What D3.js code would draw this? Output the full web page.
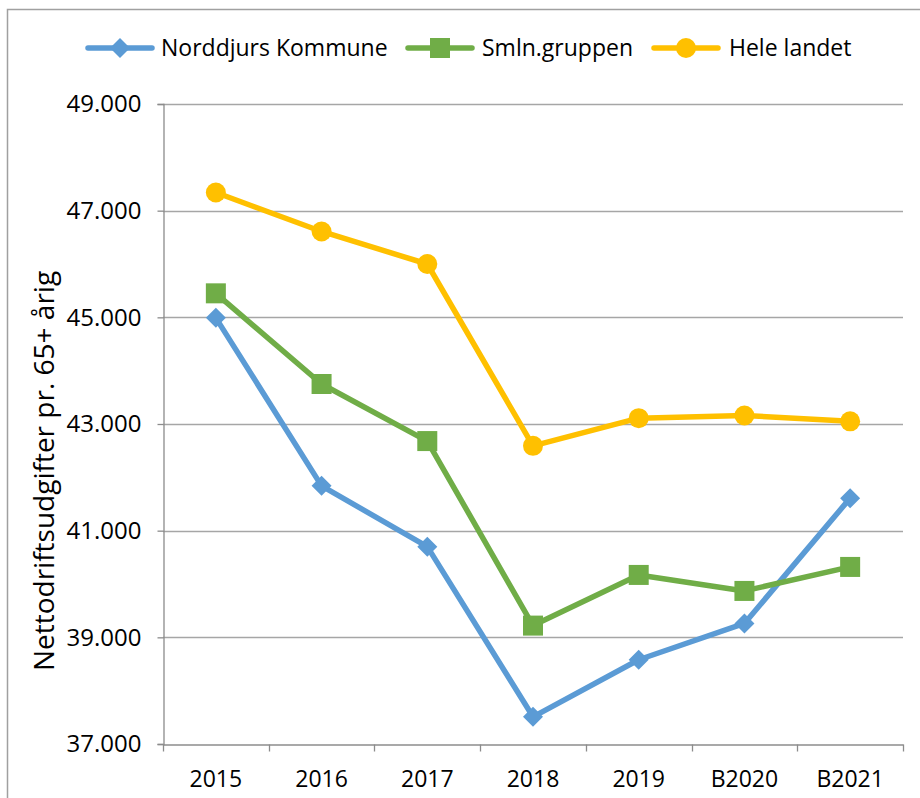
<!DOCTYPE html>
<html>
<head>
<meta charset="utf-8">
<script src="https://cdn.jsdelivr.net/npm/d3@7"></script>
<style>
  body { margin: 0; background: #fff; }
  text { font-family: "Open Sans", sans-serif; fill: #000; }
</style>
</head>
<body>
<div id="chart"></div>
<script>
// data
const years = ["2015", "2016", "2017", "2018", "2019", "B2020", "B2021"];
const norddjurs = [44990, 41840, 40700, 37510, 38580, 39260, 41610];
const smln = [45450, 43750, 42680, 39220, 40170, 39870, 40320];
const heleLandet = [47340, 46610, 46000, 42590, 43110, 43160, 43050];
const yTicks = [37000, 39000, 41000, 43000, 45000, 47000, 49000];

const seriesNames = ["Norddjurs Kommune", "Smln.gruppen", "Hele landet"];
const colors = ["#5B9BD5", "#70AD47", "#FFC000"];
const shapes = ["diamond", "square", "circle"];

const W = 920, H = 798;
const margin = { left: 163, right: 17, top: 104, bottom: 54 };

const svg = d3.select("#chart").append("svg")
    .attr("width", W).attr("height", H);

// chart area border
svg.append("rect")
    .attr("x", 7.5).attr("y", 9.5)
    .attr("width", W + 20).attr("height", H + 20)
    .attr("fill", "none").attr("stroke", "#a0a0a0").attr("stroke-width", 1.5);

const x = d3.scaleBand().domain(years).range([margin.left, W - margin.right]);
const y = d3.scaleLinear().domain([37000, 49000]).range([H - margin.bottom, margin.top]);

const fmt = v => d3.format(",.3f")(v / 1000).replace(/,/g, "");

// gridlines
svg.append("g").selectAll("line")
    .data(yTicks.slice(1))
    .join("line")
    .attr("x1", margin.left).attr("x2", W - margin.right)
    .attr("y1", d => Math.round(y(d)) + 0.5).attr("y2", d => Math.round(y(d)) + 0.5)
    .attr("stroke", "#a6a6a6").attr("stroke-width", 1.3);

// y axis
const yAxis = svg.append("g")
    .attr("transform", `translate(${margin.left + 0.5},0)`)
    .call(d3.axisLeft(y).tickValues(yTicks).tickSize(6).tickPadding(16)
        .tickFormat(fmt));
yAxis.select(".domain").attr("stroke", "#8c8c8c").attr("stroke-width", 1.3);
yAxis.selectAll(".tick line").attr("stroke", "#8c8c8c").attr("stroke-width", 1.3);
yAxis.selectAll("text").style("font-size", "24px").style("font-family", "'Open Sans', sans-serif");

// x axis
const xAxis = svg.append("g")
    .attr("transform", `translate(0,${Math.round(y(37000)) + 0.5})`)
    .call(d3.axisBottom(x).tickSize(0).tickPadding(26));
xAxis.select(".domain").attr("stroke", "#8c8c8c").attr("stroke-width", 1.3);
xAxis.selectAll("text").style("font-size", "23px").style("font-family", "'Open Sans', sans-serif");
// category boundary ticks
xAxis.append("g").selectAll("line")
    .data(years.map(d => x(d)).concat([x.range()[1]]))
    .join("line")
    .attr("x1", d => Math.round(d) + 0.5).attr("x2", d => Math.round(d) + 0.5)
    .attr("y1", 0).attr("y2", 7)
    .attr("stroke", "#8c8c8c").attr("stroke-width", 1.3);

// y axis title
svg.append("text")
    .attr("transform", "translate(54,471) rotate(-90)")
    .attr("text-anchor", "middle")
    .style("font-size", "28px")
    .text("Nettodriftsudgifter pr. 65+ årig");

const allSeries = [norddjurs, smln, heleLandet];
const cx = d => x(d) + x.bandwidth() / 2;

const line = d3.line()
    .x((d, i) => cx(years[i]))
    .y(d => y(d));

function drawMarker(g, shape, color, px, py) {
    if (shape === "diamond") {
        g.append("path")
            .attr("d", `M${px},${py - 10}L${px + 10},${py}L${px},${py + 10}L${px - 10},${py}Z`)
            .attr("fill", color);
    } else if (shape === "square") {
        g.append("rect")
            .attr("x", px - 10).attr("y", py - 10)
            .attr("width", 20).attr("height", 20)
            .attr("fill", color);
    } else {
        g.append("circle")
            .attr("cx", px).attr("cy", py).attr("r", 10)
            .attr("fill", color);
    }
}

allSeries.forEach((vals, si) => {
    const g = svg.append("g");
    g.append("path")
        .datum(vals)
        .attr("d", line)
        .attr("fill", "none")
        .attr("stroke", colors[si])
        .attr("stroke-width", 5.5)
        .attr("stroke-linejoin", "round")
        .attr("stroke-linecap", "round");
    vals.forEach((v, i) => drawMarker(g, shapes[si], colors[si], cx(years[i]), y(v)));
});

// legend
const legendItems = [
    { x: 88, textX: 161 },
    { x: 408, textX: 482 },
    { x: 654, textX: 729 }
];
const legendY = 48;
legendItems.forEach((li, i) => {
    const g = svg.append("g");
    g.append("line")
        .attr("x1", li.x).attr("x2", li.x + 64)
        .attr("y1", legendY).attr("y2", legendY)
        .attr("stroke", colors[i]).attr("stroke-width", 5.5)
        .attr("stroke-linecap", "round");
    drawMarker(g, shapes[i], colors[i], li.x + 32, legendY);
    g.append("text")
        .attr("x", li.textX).attr("y", legendY)
        .attr("dy", "0.35em")
        .style("font-size", "23px")
        .text(seriesNames[i]);
});
</script>
</body>
</html>
